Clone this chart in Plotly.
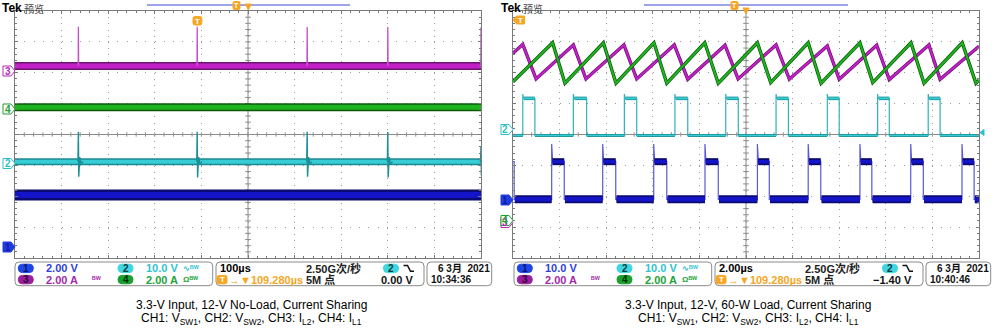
import plotly.graph_objects as go

W, H = 1000, 333

# ======================= DATA =======================
# Vertical values are in screen divisions (8 div, centre = 0)
# Left capture: 100 us/div -> 0..1000 us (12-V no-load)
L_CH3_LEVEL = 2.22      # I_L2  (magenta)
L_CH4_LEVEL = 0.88      # I_L1  (green)
L_CH2_LEVEL = -0.88     # V_SW2 (cyan)
L_CH1_LEVEL = -1.96     # V_SW1 (blue)
L_SPIKE_T = [136, 391, 627, 800, 1000]
L_CH3_SPIKE_TOP = [3.49, 3.49, 3.48, 3.48, 3.47]
L_CH2_SPIKE_TOP = [0.09, 0.09, 0.09, 0.08, -0.40]
L_CH2_SPIKE_BOT = [-1.37, -1.39, -1.37, -1.39, -1.33]

# Right capture: 2 us/div -> 0..20 us (12-V, 60-W load)
R_CH3_T = [0, 0.42, 0.99, 2.59, 3.13, 4.76, 5.31, 6.92, 7.50, 9.10, 9.66,
           11.29, 11.86, 13.49, 14.00, 15.61, 16.15, 17.85, 18.33, 20]
R_CH3_V = [2.63, 2.92, 1.80, 2.90, 1.80, 2.90, 1.80, 2.90, 1.79, 2.89, 1.80,
           2.90, 1.79, 2.87, 1.79, 2.89, 1.78, 2.90, 1.79, 2.86]
R_CH4_T = [0, 1.70, 2.23, 3.88, 4.42, 6.05, 6.60, 8.23, 8.81, 10.49, 11.06,
           12.67, 13.22, 14.89, 15.44, 17.08, 17.64, 19.28, 19.87, 20]
R_CH4_V = [1.71, 2.97, 1.66, 2.97, 1.66, 2.97, 1.66, 2.97, 1.66, 2.97, 1.68,
           2.97, 1.66, 2.97, 1.68, 2.97, 1.66, 2.97, 1.66, 1.76]
R_CH2_RISE = [0.42, 2.59, 4.78, 6.95, 9.13, 11.29, 13.49, 15.65, 17.82]
R_CH2_FALL = [0.94, 3.16, 5.31, 7.50, 9.67, 11.82, 14.00, 16.15, 18.33]
R_CH2_HIGH = 1.17
R_CH2_LOW = -0.03
R_CH2_OVERSHOOT = 1.31
R_CH1_RISE = [1.66, 3.85, 6.04, 8.24, 10.49, 12.67, 14.89, 17.07, 19.27]
R_CH1_FALL = [2.20, 4.41, 6.60, 8.81, 11.00, 13.21, 15.40, 17.61, 19.79]
R_CH1_FIRST_FALL = 0.05
R_CH1_HIGH = -0.88
R_CH1_LOW = -2.10
R_CH1_OVERSHOOT = -0.31

# Readout texts
L_SCALES = ["2.00 V", "10.0 V", "2.00 A", "2.00 A"]   # CH1, CH2, CH3, CH4
R_SCALES = ["10.0 V", "10.0 V", "2.00 A", "2.00 A"]
TIMEBASES = ["100µs", "2.00µs"]
TRIG_POS = "→▼109.280µs"
SAMPLE_RATE = "2.50G次/秒"
RECORD_LEN = "5M 点"
TRIG_LEVELS = ["0.00 V", "−1.40 V"]
DATES = ["6 3月  2021", "6 3月  2021"]
CLOCKS = ["10:34:36", "10:40:46"]
CAPTION_1 = ["3.3-V Input, 12-V No-Load, Current Sharing",
             "3.3-V Input, 12-V, 60-W Load, Current Sharing"]
CAPTION_2 = "CH1: V<sub>SW1</sub>, CH2: V<sub>SW2</sub>, CH3: I<sub>L2</sub>, CH4: I<sub>L1</sub>"

# ======================= STYLE =======================
FONT = "Liberation Sans, Arial, Noto Sans CJK SC"
GRID = "#9c9c9c"
BORDER = "#7a7a7a"
MAG, MAG_D = "#c21fc8", "#6e146e"
GRN, GRN_D = "#1fb41f", "#0a5a0a"
CYN, CYN_D = "#37cdd5", "#1b8a92"
BLU, BLU_D = "#1414c8", "#0a0a70"
ORANGE = "#f5a623"

PANELS = [dict(x0=15, x1=481, xmax=1000), dict(x0=513, x1=979, xmax=20)]
GY0, GY1 = 11, 258

fig = go.Figure()


def line_trace(x, y, color, width, ax, ay):
    fig.add_trace(go.Scatter(x=x, y=y, mode="lines", line=dict(color=color, width=width),
                             xaxis=ax, yaxis=ay, hoverinfo="skip", showlegend=False))


# ---------------- left panel traces ----------------
LX = [0, 1000]
line_trace(LX, [L_CH4_LEVEL] * 2, GRN_D, 8, "x", "y")
line_trace(LX, [L_CH4_LEVEL] * 2, GRN, 5, "x", "y")
line_trace(LX, [L_CH3_LEVEL] * 2, MAG_D, 8, "x", "y")
line_trace(LX, [L_CH3_LEVEL] * 2, MAG, 5, "x", "y")
sx, sy = [], []
for t, top in zip(L_SPIKE_T, L_CH3_SPIKE_TOP):
    sx += [t - 0.4, t, t + 0.6, None]
    sy += [L_CH3_LEVEL, top, L_CH3_LEVEL, None]
line_trace(sx, sy, "#c452c8", 1.3, "x", "y")

line_trace(LX, [L_CH2_LEVEL] * 2, CYN_D, 7, "x", "y")
line_trace(LX, [L_CH2_LEVEL] * 2, CYN, 4, "x", "y")
cx, cy = [], []
for t, top, bot in zip(L_SPIKE_T, L_CH2_SPIKE_TOP, L_CH2_SPIKE_BOT):
    cx += [t - 1, t, t + 0.8, t + 3, t + 6, t + 10, None]
    cy += [L_CH2_LEVEL, top, bot, L_CH2_LEVEL + 0.15, L_CH2_LEVEL - 0.08, L_CH2_LEVEL, None]
line_trace(cx, cy, "#1d8f96", 1.4, "x", "y")

line_trace(LX, [L_CH1_LEVEL] * 2, BLU_D, 11, "x", "y")
line_trace(LX, [L_CH1_LEVEL] * 2, BLU, 6, "x", "y")

# ---------------- right panel traces ----------------
# CH2 (cyan) switch node
fx, fy = [0], [R_CH2_LOW]
lowx, lowy, hix, hiy = [], [], [], []
prev = 0
for r, f in zip(R_CH2_RISE, R_CH2_FALL):
    fx += [r, r, r + 0.03, r + 0.08, f, f, f + 0.05]
    fy += [R_CH2_LOW, R_CH2_OVERSHOOT, R_CH2_HIGH, R_CH2_HIGH, R_CH2_HIGH, R_CH2_LOW, R_CH2_LOW]
    lowx += [prev, r, None]; lowy += [R_CH2_LOW, R_CH2_LOW, None]
    hix += [r + 0.05, f, None]; hiy += [R_CH2_HIGH, R_CH2_HIGH, None]
    prev = f
fx += [20]; fy += [R_CH2_LOW]
lowx += [prev, 20]; lowy += [R_CH2_LOW, R_CH2_LOW]
line_trace(fx, fy, "#2fb3bc", 1.2, "x2", "y2")
line_trace(lowx, lowy, CYN_D, 3, "x2", "y2")
line_trace(lowx, lowy, CYN, 1.5, "x2", "y2")
line_trace(hix, hiy, CYN_D, 3.5, "x2", "y2")
line_trace(hix, hiy, CYN, 2, "x2", "y2")

# CH1 (blue) switch node
bx, by = [0, R_CH1_FIRST_FALL, R_CH1_FIRST_FALL], [R_CH1_HIGH, R_CH1_HIGH, R_CH1_LOW]
blx, bly, bhx, bhy = [], [], [], []
prev = R_CH1_FIRST_FALL
for r, f in zip(R_CH1_RISE, R_CH1_FALL):
    bx += [r, r, r + 0.04, f, f]
    by += [R_CH1_LOW, R_CH1_OVERSHOOT, R_CH1_HIGH, R_CH1_HIGH, R_CH1_LOW]
    blx += [prev + 0.03, r, None]; bly += [R_CH1_LOW, R_CH1_LOW, None]
    bhx += [r + 0.03, f, None]; bhy += [R_CH1_HIGH, R_CH1_HIGH, None]
    prev = f
bx += [20]; by += [R_CH1_LOW]
blx += [prev + 0.03, 20]; bly += [R_CH1_LOW, R_CH1_LOW]
line_trace(bx, by, "#5858d8", 1.2, "x2", "y2")
line_trace(blx, bly, BLU_D, 8, "x2", "y2")
line_trace(blx, bly, BLU, 4.5, "x2", "y2")
line_trace(bhx, bhy, BLU_D, 7, "x2", "y2")
line_trace(bhx, bhy, BLU, 3.5, "x2", "y2")

# CH3 / CH4 inductor currents
line_trace(R_CH3_T, R_CH3_V, MAG_D, 3.4, "x2", "y2")
line_trace(R_CH3_T, R_CH3_V, MAG, 2.0, "x2", "y2")
line_trace(R_CH4_T, R_CH4_V, GRN_D, 3.4, "x2", "y2")
line_trace(R_CH4_T, R_CH4_V, GRN, 2.0, "x2", "y2")

# ======================= LAYOUT =======================
shapes, annotations = [], []


def pt(x, y):
    return f"{x / W:.5f},{1 - y / H:.5f}"


def rrect(x0, y0, x1, y1, r, line="#8a8a8a", fill="white", lw=1):
    p = (f"M{pt(x0 + r, y0)} L{pt(x1 - r, y0)} Q{pt(x1, y0)} {pt(x1, y0 + r)} "
         f"L{pt(x1, y1 - r)} Q{pt(x1, y1)} {pt(x1 - r, y1)} L{pt(x0 + r, y1)} "
         f"Q{pt(x0, y1)} {pt(x0, y1 - r)} L{pt(x0, y0 + r)} Q{pt(x0, y0)} {pt(x0 + r, y0)} Z")
    shapes.append(dict(type="path", xref="paper", yref="paper", path=p,
                       line=dict(color=line, width=lw), fillcolor=fill, layer="above"))


def poly(points, line, fill, lw=1, closed=True):
    p = "M" + " L".join(pt(x, y) for x, y in points) + (" Z" if closed else "")
    shapes.append(dict(type="path", xref="paper", yref="paper", path=p,
                       line=dict(color=line, width=lw), fillcolor=fill, layer="above"))


def text(x, y, s, color="#000", size=11, bold=True, xanchor="left", family=FONT, yanchor="middle"):
    annotations.append(dict(x=x / W, y=1 - y / H, xref="paper", yref="paper", text=s,
                            showarrow=False, xanchor=xanchor, yanchor=yanchor, borderpad=0,
                            font=dict(family=family, size=size, color=color,
                                      weight="bold" if bold else "normal")))


def pill(x0, y0, x1, y1, fill, label, tcolor):
    rrect(x0, y0, x1, y1, 4, line=fill, fill=fill)
    text((x0 + x1) / 2, (y0 + y1) / 2 + 0.3, label, tcolor, 10, True, "center")


def tag(x0, yc, label, color, filled):
    poly([(x0, yc - 5), (x0 + 8, yc - 5), (x0 + 12, yc), (x0 + 8, yc + 5), (x0, yc + 5)],
         color, color if filled else "white", 1)
    text(x0 + 4.5, yc + 0.3, label, "#1a1aa0" if filled else color, 10, True, "center")


# graticule centre cross with ticks
for i, pnl in enumerate(PANELS):
    xa, ya = ("x", "y") if i == 0 else ("x2", "y2")
    xm = pnl["xmax"]
    shapes.append(dict(type="line", xref=xa, yref=ya, x0=0, x1=xm, y0=0, y1=0,
                       line=dict(color="#8a8a8a", width=1), layer="below"))
    shapes.append(dict(type="line", xref=xa, yref=ya, x0=xm / 2, x1=xm / 2, y0=-4, y1=4,
                       line=dict(color="#8a8a8a", width=1), layer="below"))
    for k in range(1, 50):
        xx = xm * k / 50
        shapes.append(dict(type="line", xref=xa, yref=ya, x0=xx, x1=xx, y0=-0.07, y1=0.07,
                           line=dict(color="#8a8a8a", width=1), layer="below"))
    for k in range(1, 40):
        yy = -4 + 8 * k / 40
        shapes.append(dict(type="line", xref=xa, yref=ya, x0=xm / 2 - xm * 0.006, x1=xm / 2 + xm * 0.006,
                           y0=yy, y1=yy, line=dict(color="#8a8a8a", width=1), layer="below"))

# ---- header ----
for dx, blue_from, blue_to, tpos, trig_x, trig_y in [(0, 147, 350, 236.5, 248.3, 4),
                                                      (499, 644, 848, 734.5, 746, 8)]:
    text(1 + dx, 0, "Tek", "#000", 12, True, yanchor="top")
    text(22.5 + dx, -0.5, "预览", "#4a4a4a", 10, False, family="Noto Sans CJK SC", yanchor="top")
    shapes.append(dict(type="line", xref="paper", yref="paper", x0=blue_from / W, x1=blue_to / W,
                       y0=1 - 5 / H, y1=1 - 5 / H, line=dict(color="#7c84e4", width=1.6)))
    rrect(tpos - 3.5, 1.5, tpos + 3.5, 9.5, 1.5, line=ORANGE, fill=ORANGE)
    text(tpos, 5.8, "T", "white", 7, True, "center")
    poly([(trig_x - 3, trig_y), (trig_x + 3, trig_y), (trig_x, trig_y + 6)], ORANGE, ORANGE)

# trigger tags inside graticules
rrect(193, 16.5, 201.8, 25, 2, line=ORANGE, fill=ORANGE)
text(197.4, 21, "T", "white", 8, True, "center")
poly([(513, 20), (516.5, 16), (524.5, 16), (524.5, 24), (516.5, 24)], ORANGE, ORANGE)
text(520, 20.3, "T", "white", 8, True, "center")

# channel tags
tag(3, 71, "3", "#b42ab8", False)
tag(3, 109, "4", "#1f9f2f", False)
tag(3, 163.5, "2", "#2cc0cc", False)
tag(3, 247, "1", "#1e3ce0", True)
tag(501, 222.5, "3", "#b42ab8", False)
tag(501, 220.5, "4", "#1f9f2f", False)
tag(501, 129.5, "2", "#2cc0cc", False)
tag(501, 200, "1", "#1e3ce0", True)
poly([(980, 132.5), (984, 129.5), (984, 135.5)], "#2cc0cc", "#2cc0cc")

# ---- status bars ----
BLUE_T, CYAN_T, PURP_T, GRN_T = "#2f3fdc", "#2ec4d0", "#a42aa8", "#22a43a"
for i, dx in enumerate([0, 499]):
    sc = L_SCALES if i == 0 else R_SCALES
    rrect(15 + dx, 262, 212.7 + dx, 285.7, 4)
    rrect(216 + dx, 262, 424 + dx, 285.7, 4)
    rrect(427 + dx, 262, 491.7 + dx, 285.7, 4)
    pill(18.3 + dx, 264.2, 33.3 + dx, 272.6, "#1e46e6", "1", "#0a1470")
    pill(18.3 + dx, 275.4, 33.3 + dx, 283.8, "#9a1e9e", "3", "#2a0030")
    pill(118 + dx, 264.2, 133 + dx, 272.6, "#3fd6e0", "2", "#0b3a40")
    pill(118 + dx, 275.4, 133 + dx, 283.8, "#18a030", "4", "#02300a")
    text(44.5 + dx, 268.4, sc[0], BLUE_T)
    text(44.5 + dx, 279.6, sc[2], PURP_T)
    text(144.5 + dx, 268.4, sc[1], CYAN_T)
    text(144.5 + dx, 279.6, sc[3], GRN_T)
    text(182 + dx, 268, "∿ᴮᵂ", CYAN_T, 8, True)
    text(91 + dx, 279.4, "ᴮᵂ", PURP_T, 8, True)
    text(182 + dx, 279.4, "Ωᴮᵂ", GRN_T, 8, True)
    # timebase box
    text(219 + dx, 268.4, TIMEBASES[i], "#000", 11, True)
    rrect(217 + dx, 275.4, 227 + dx, 283.8, 2, line=ORANGE, fill=ORANGE)
    text(222 + dx, 279.8, "T", "white", 8, True, "center")
    text(227.5 + dx, 279.6, TRIG_POS, ORANGE, 11, True)
    text(304.5 + dx, 268.4, SAMPLE_RATE, "#222", 11, True)
    text(304.5 + dx, 279.6, RECORD_LEN, "#222", 11, True)
    pill(383.5 + dx, 264.2, 398.5 + dx, 272.6, "#3fd6e0", "2", "#0b3a40")
    poly([(403.5 + dx, 265.5), (407.5 + dx, 265.5), (410.5 + dx, 271.3), (414 + dx, 271.3)],
         "#111", "rgba(0,0,0,0)", 1.5, closed=False)
    text(414 + dx, 279.6, TRIG_LEVELS[i], "#111", 11, True, "right")
    text(490.5 + dx, 268.4, DATES[i], "#111", 10, True, "right")
    text(430 + dx, 279.6, CLOCKS[i], "#111", 10, True)
    # captions
    cxp = 251 if i == 0 else 748
    text(cxp, 304.5, CAPTION_1[i], "#000", 12, False, "center")
    text(cxp, 318.5, CAPTION_2, "#000", 12, False, "center")


def xaxis(dom, xmax, anchor):
    return dict(domain=dom, range=[0, xmax], anchor=anchor, tick0=0, dtick=xmax / 10,
                showgrid=True, gridcolor=GRID, griddash="1px,5.2px", gridwidth=1,
                zeroline=False, showline=True, linecolor=BORDER, linewidth=1, mirror="allticks",
                ticks="inside", ticklen=3, tickcolor=BORDER, showticklabels=False,
                minor=dict(ticks="inside", ticklen=2, tick0=0, dtick=xmax / 50,
                           tickcolor=BORDER, showgrid=False),
                fixedrange=True)


def yaxis(anchor):
    return dict(domain=[1 - GY1 / H, 1 - GY0 / H], range=[-4, 4], anchor=anchor, tick0=0, dtick=1,
                showgrid=True, gridcolor=GRID, griddash="1px,8.3px", gridwidth=1,
                zeroline=False, showline=True, linecolor=BORDER, linewidth=1, mirror="allticks",
                ticks="inside", ticklen=3, tickcolor=BORDER, showticklabels=False,
                minor=dict(ticks="inside", ticklen=2, tick0=0, dtick=0.2,
                           tickcolor=BORDER, showgrid=False),
                fixedrange=True)


fig.update_layout(
    width=W, height=H, margin=dict(l=0, r=0, t=0, b=0),
    paper_bgcolor="white", plot_bgcolor="white",
    xaxis=xaxis([15 / W, 481 / W], 1000, "y"),
    yaxis=yaxis("x"),
    xaxis2=xaxis([513 / W, 979 / W], 20, "y2"),
    yaxis2=yaxis("x2"),
    shapes=shapes, annotations=annotations, showlegend=False,
    font=dict(family=FONT),
)

fig.write_html("out.html")
